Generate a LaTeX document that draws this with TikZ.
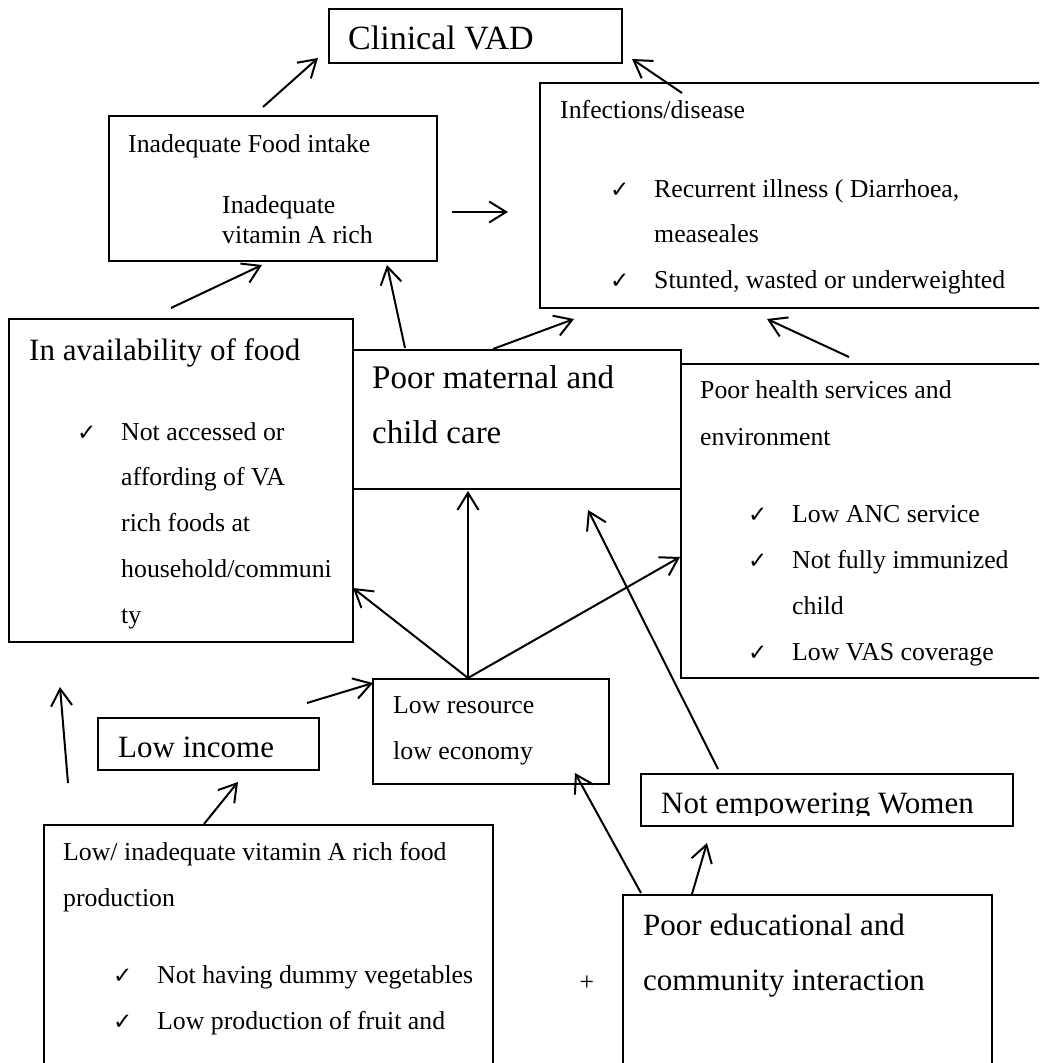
\documentclass[tikz,border=0pt]{standalone}
\usepackage{fontspec}
\setmainfont{Liberation Serif}
\newfontfamily\chkfont{DejaVu Sans}
\usetikzlibrary{arrows.meta, calc}
\newcommand{\chk}{\makebox[44pt][l]{\chkfont\fontsize{23}{23}\selectfont ✓}}
\newcommand{\chkgap}{\makebox[44pt][l]{}}
\tikzset{
  box/.style={draw, line width=1.3pt, anchor=north west, inner sep=0pt, outer sep=0pt},
  thickbox/.style={box, line width=2.6pt},
  smtxt/.style={anchor=base west, inner sep=0pt, align=left, font=\fontsize{25.8}{46}\selectfont},
  lgtxt/.style={anchor=base west, inner sep=0pt, align=left, font=\fontsize{31}{55}\selectfont},
  arr/.style={-{Straight Barb[length=17pt, width=21pt]}, line width=2pt},
}
\begin{document}
\begin{tikzpicture}[x=1pt, y=1pt]
  \useasboundingbox (0,0) rectangle (1039,-1063);
  \clip (0,0) rectangle (1039,-1063);

  % boxes
  \node[box, minimum width=293, minimum height=54] (vad) at (329,-9) {};
  \node[box, minimum width=328, minimum height=145] (food) at (109,-116) {};
  \node[thickbox, minimum width=510, minimum height=225] (infect) at (540,-83) {};
  \node[box, minimum width=344, minimum height=323] (avail) at (9,-319) {};
  \node[box, minimum width=328, minimum height=139] (care) at (353,-350) {};
  \node[box, minimum width=369, minimum height=314] (health) at (681,-364) {};
  \node[box, minimum width=236, minimum height=105] (lowres) at (373,-679) {};
  \node[box, minimum width=221, minimum height=52] (income) at (98,-718) {};
  \node[box, minimum width=449, minimum height=255] (prod) at (44,-825) {};
  \node[box, minimum width=372, minimum height=52] (women) at (641,-774) {};
  \node[box, minimum width=369, minimum height=185] (edu) at (623,-895) {};

  % texts (multi-line ones sit on the baseline of their last line)
  \node[lgtxt, font=\fontsize{34}{40}\selectfont] (vadt) at (348,-49) {Clinical VAD};
  \node[smtxt] (foodt) at (128,-152) {Inadequate Food intake};
  \node[smtxt, font=\fontsize{25.8}{30}\selectfont] (foodl) at (222,-243) {Inadequate\\vitamin A rich};
  \node[smtxt] (infectt) at (560,-118) {Infections/disease};
  \node[smtxt, font=\fontsize{25.8}{45.5}\selectfont] (infectl) at (610,-288)
    {\chk Recurrent illness ( Diarrhoea,\\\chkgap measeales\\\chk Stunted, wasted or underweighted};
  \node[lgtxt] (availt) at (29,-360) {In availability of food};
  \node[smtxt, font=\fontsize{25.8}{45.75}\selectfont] (availl) at (77,-623)
    {\chk Not accessed or\\\chkgap affording of VA\\\chkgap rich foods at\\\chkgap household/communi\\\chkgap ty};
  \node[lgtxt, font=\fontsize{33}{55}\selectfont] (caret) at (372,-443) {Poor maternal and\\child care};
  \node[smtxt, font=\fontsize{25.8}{47}\selectfont] (healtht) at (700,-445) {Poor health services and\\environment};
  \node[smtxt] (healthl) at (748,-660)
    {\chk Low ANC service\\\chk Not fully immunized\\\chkgap child\\\chk Low VAS coverage};
  \node[smtxt] (lowrest) at (393,-759) {Low resource\\low economy};
  \node[lgtxt] (incomet) at (118,-757) {Low income};
  \node[smtxt] (prodt) at (63,-906) {Low/ inadequate vitamin A rich food\\production};
  \node[smtxt] (prodl) at (113,-1029) {\chk Not having dummy vegetables\\\chk Low production of fruit and};
  \begin{scope}
    \clip (641,-774) rectangle (1013,-815);
    \node[lgtxt] (woment) at (661,-813) {Not empowering Women};
  \end{scope}
  \node[lgtxt] (edut) at (643,-990) {Poor educational and\\community interaction};
  \node[smtxt, anchor=center] (plus) at (587,-983) {+};

  % arrows
  \coordinate (hub) at ([shift={(-23,1)}]lowres.north);
  \coordinate (up0) at ([shift={(24,42)}]prod.north west);
  \coordinate (up1) at ([shift={(51,-45)}]avail.south west);
  \draw[arr] ([shift={(-10,9)}]food.north) -- ([shift={(-11,5)}]vad.south west);
  \draw[arr] ([shift={(142,-10)}]infect.north west) -- ([shift={(10,4)}]vad.south east);
  \draw[arr] ([shift={(15,-23.5)}]food.east) -- ([shift={(-32,-16.5)}]infect.west);
  \draw[arr] ([shift={(162,11)}]avail.north west) -- ([shift={(-11,-4)}]food.south);
  \draw[arr] ([shift={(52,2)}]care.north west) -- ([shift={(-50,-4)}]food.south east);
  \draw[arr] ([shift={(-24,1)}]care.north) -- ([shift={(34,-11)}]infect.south west);
  \draw[arr] ([shift={(168,7)}]health.north west) -- ([shift={(227,-11)}]infect.south west);
  \draw[arr] (hub) -- ([shift={(0,54)}]avail.south east);
  \draw[arr] (hub) -- ([shift={(-49,-2)}]care.south);
  \draw[arr] (hub) -- ([shift={(-1,-36)}]health.west);
  \draw[arr] ([shift={(77,5)}]women.north west) -- ([shift={(-93,-21)}]care.south east);
  \draw[arr] ([shift={(-12,15)}]income.north east) -- ([shift={(0,-4)}]lowres.north west);
  \draw[arr] ([shift={(160,1)}]prod.north west) -- ([shift={(29.5,-12)}]income.south);
  \draw[arr] (up0) -- (up1);
  \draw[arr] ([shift={(18,2)}]edu.north west) -- ([shift={(-34,11)}]lowres.south east);
  \draw[arr] ([shift={(69,1)}]edu.north west) -- ([shift={(66,-17)}]women.south west);
\end{tikzpicture}
\end{document}
